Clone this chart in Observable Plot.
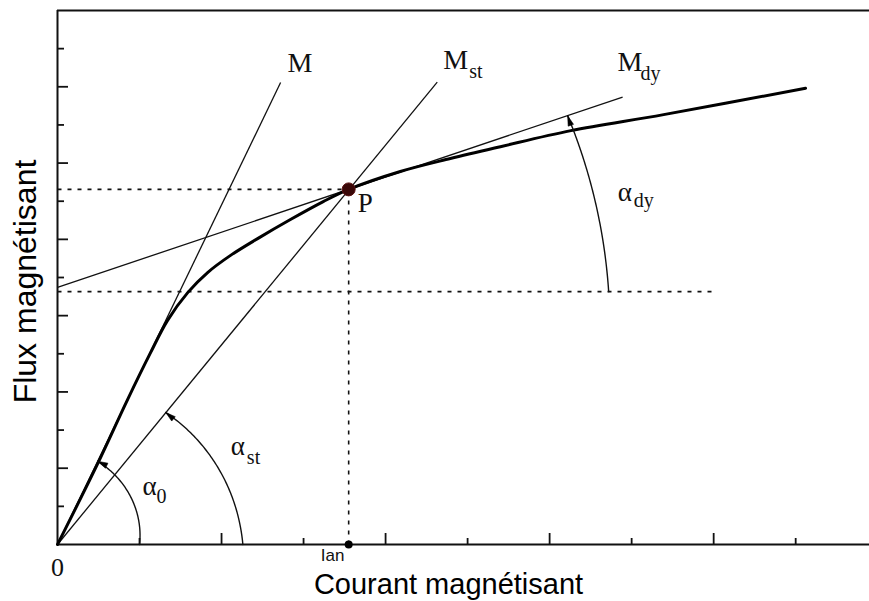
<!DOCTYPE html>
<html><head><meta charset="utf-8">
<script src="https://cdn.jsdelivr.net/npm/d3@7"></script>
<script src="https://cdn.jsdelivr.net/npm/@observablehq/plot@0.6"></script>
<style>
html,body{margin:0;padding:0;background:#fff;}
#chart{width:869px;height:601px;}
</style></head><body><div id="chart"></div>
<script>
// Magnetisation curve: current (x-tick units) and flux (y-tick units)
const curveI   = [0, 0.49, 0.85, 1.13, 1.34, 1.59, 1.83, 2.11, 2.44, 2.84, 3.24, 3.55, 4.18, 4.79, 5.40, 6.26, 7.39, 9.12];
const curvePhi = [0, 2.12, 3.78, 5.01, 5.87, 6.61, 7.13, 7.58, 8.02, 8.52, 8.99, 9.31, 9.78, 10.12, 10.43, 10.85, 11.27, 11.96];

// Operating point P
const pointP = {I: 3.55, phi: 9.31};
const pointLabel = "P";
const currentLabel = "Ian";

// Straight lines M (initial tangent), Mst (secant through P), Mdy (tangent at P)
const lineMain = ["M", "M", "M"];
const lineSub  = ["", "st", "dy"];
const lineX1 = [0, 0, 0];
const lineY1 = [0, 0, 6.74];
const lineX2 = [2.72, 4.63, 6.89];
const lineY2 = [12.11, 12.12, 11.73];

// Horizontal reference level for the dynamic angle
const levelDy = 6.63;
const levelDyEnd = 8.0;

// Angle arcs: start point on the reference line, arrow tip on the inclined line
const angleSub    = ["0", "st", "dy"];
const arcStartX   = [1.0, 2.26, 6.72];
const arcStartY   = [0, 0, 6.63];
const arcTipX     = [0.49, 1.32, 6.22];
const arcTipY     = [2.18, 3.46, 11.24];

// Axis ticks
const xTicks = [1, 2, 3, 4, 5, 6, 7, 8, 9];
const yTicks = [1, 2, 3, 4, 5, 6, 7, 8, 9, 10, 11, 12, 13];
const xMax = 9.9, yMax = 14;
const xTitle = "Courant magnétisant";
const yTitle = "Flux magnétisant";
const originLabel = "0";

// ---- layout
const W = 869, H = 601, mL = 57, mR = 0, mT = 10, mB = 57;
const kx = (W - mL - mR) / xMax, ky = (H - mT - mB) / yMax;
const SERIF = "'Liberation Serif','DejaVu Serif',serif";
const SANS = "'Liberation Sans',Arial,sans-serif";

const curve = curveI.map((x, i) => ({x, y: curvePhi[i]}));
const lines = lineMain.map((m, i) => ({x1: lineX1[i], y1: lineY1[i], x2: lineX2[i], y2: lineY2[i]}));

// vertex of each angle: origin for first two, intersection of Mdy with the level for the third
const slopeDy = (lineY2[2] - lineY1[2]) / (lineX2[2] - lineX1[2]);
const vertices = [[0, 0], [0, 0], [lineX1[2] + (levelDy - lineY1[2]) / slopeDy, levelDy]];

const arcs = [], arrows = [];
angleSub.forEach((s, k) => {
  const v = vertices[k];
  const sx = (arcStartX[k] - v[0]) * kx, sy = (arcStartY[k] - v[1]) * ky;
  const tx = (arcTipX[k] - v[0]) * kx, ty = (arcTipY[k] - v[1]) * ky;
  const a0 = Math.atan2(sy, sx), a1 = Math.atan2(ty, tx);
  const r0 = Math.hypot(sx, sy), r1 = Math.hypot(tx, ty);
  const n = 80;
  for (let i = 0; i <= n; i++) {
    const f = i / n, a = a0 + (a1 - a0) * f, r = r0 + (r1 - r0) * f;
    arcs.push({k, x: v[0] + r * Math.cos(a) / kx, y: v[1] + r * Math.sin(a) / ky});
  }
  const ux = -Math.sin(a1), uy = Math.cos(a1);
  const L = 10, hw = 2.8;
  const bx = tx - ux * L, by = ty - uy * L;
  const nx = -uy, ny = ux;
  [[tx, ty], [bx + nx * hw, by + ny * hw], [bx - nx * hw, by - ny * hw], [tx, ty]]
    .forEach(p => arrows.push({k, x: v[0] + p[0] / kx, y: v[1] + p[1] / ky}));
});

const dashed = [
  {x1: 0, y1: pointP.phi, x2: pointP.I, y2: pointP.phi},
  {x1: pointP.I, y1: 0, x2: pointP.I, y2: pointP.phi},
  {x1: 0, y1: levelDy, x2: levelDyEnd, y2: levelDy}
];

const lineEnds = lines.map((l, i) => ({x: l.x2, y: l.y2, m: lineMain[i], s: lineSub[i]}));
const mOff = [[7, -11], [6, -13], [-5, -26]];
const sOff = [[0, 0], [32, -4], [18, -17]];
const arcStarts = angleSub.map((s, i) => ({x: arcStartX[i], y: arcStartY[i], s}));
const aOff = [[3, -50], [-12, -90], [9, -91]];
const asOff = [[17, -42], [4, -81], [25, -85]];

const plot = Plot.plot({
  width: W, height: H,
  marginLeft: mL, marginRight: mR, marginTop: mT, marginBottom: mB,
  x: {domain: [0, xMax], axis: null},
  y: {domain: [0, yMax], axis: null},
  style: {background: "white", overflow: "visible", color: "#111"},
  marks: [
    // frame
    Plot.ruleX([0], {stroke: "#111", strokeWidth: 2}),
    Plot.ruleY([0, yMax], {stroke: "#111", strokeWidth: 2}),
    // ticks pointing inward
    Plot.ruleX(xTicks, {x: d => d, y1: 0, y2: d => (d % 2 === 0 ? 11 : 6) / ky, stroke: "#111", strokeWidth: 1.8}),
    Plot.ruleY(yTicks, {y: d => d, x1: 0, x2: d => (d % 2 === 0 ? 11 : 7) / kx, stroke: "#111", strokeWidth: 1.8}),
    // dashed guides
    Plot.link(dashed, {x1: "x1", y1: "y1", x2: "x2", y2: "y2", stroke: "#111", strokeWidth: 1.6, strokeDasharray: "4,6"}),
    // straight lines
    Plot.link(lines, {x1: "x1", y1: "y1", x2: "x2", y2: "y2", stroke: "#111", strokeWidth: 1.3}),
    // magnetisation curve
    Plot.line(curve, {x: "x", y: "y", curve: "catmull-rom", stroke: "#000", strokeWidth: 3}),
    // angle arcs and arrowheads
    Plot.line(arcs, {x: "x", y: "y", z: "k", stroke: "#111", strokeWidth: 1.4}),
    Plot.line(arrows, {x: "x", y: "y", z: "k", fill: "#000", stroke: "#000", strokeWidth: 0.6}),
    // points
    Plot.dot([pointP], {x: "I", y: 0, r: 4, fill: "#000"}),
    Plot.dot([pointP], {x: "I", y: "phi", r: 6.5, fill: "#3a0808", stroke: "#5a1010", strokeWidth: 1}),
    // labels of lines
    ...lineEnds.map((d, i) => Plot.text([d], {x: "x", y: "y", text: "m", dx: mOff[i][0], dy: mOff[i][1], textAnchor: "start", lineAnchor: "bottom", fontFamily: SERIF, fontSize: 28, fill: "#111"})),
    ...lineEnds.map((d, i) => Plot.text([d], {x: "x", y: "y", text: "s", dx: sOff[i][0], dy: sOff[i][1], textAnchor: "start", lineAnchor: "bottom", fontFamily: SERIF, fontSize: 20, fill: "#111"})),
    // angle labels
    ...arcStarts.map((d, i) => Plot.text([d], {x: "x", y: "y", text: () => "α", dx: aOff[i][0], dy: aOff[i][1], textAnchor: "start", lineAnchor: "bottom", fontFamily: SERIF, fontSize: 27, fill: "#111"})),
    ...arcStarts.map((d, i) => Plot.text([d], {x: "x", y: "y", text: "s", dx: asOff[i][0], dy: asOff[i][1], textAnchor: "start", lineAnchor: "bottom", fontFamily: SERIF, fontSize: 20, fill: "#111"})),
    // P label
    Plot.text([pointP], {x: "I", y: "phi", text: () => pointLabel, dx: 9, dy: 23, textAnchor: "start", lineAnchor: "bottom", fontFamily: SERIF, fontSize: 27, fill: "#111"}),
    // Ian label
    Plot.text([pointP], {x: "I", y: 0, text: () => currentLabel, dx: -16, dy: 16, textAnchor: "middle", lineAnchor: "bottom", fontFamily: SANS, fontSize: 17, fill: "#111"}),
    // origin label
    Plot.text([0], {x: d => d, y: d => d, text: () => originLabel, dy: 31, textAnchor: "middle", lineAnchor: "bottom", fontFamily: SERIF, fontSize: 26, fill: "#111"}),
    // axis titles
    Plot.text([xTitle], {frameAnchor: "bottom", text: d => d, dx: -15, dy: 49, textAnchor: "middle", lineAnchor: "bottom", fontFamily: SANS, fontSize: 29, fill: "#000"}),
    Plot.text([yTitle], {frameAnchor: "left", text: d => d, dx: -22, dy: 4, rotate: -90, textAnchor: "middle", lineAnchor: "bottom", fontFamily: SANS, fontSize: 32, fill: "#000"})
  ]
});
document.getElementById("chart").appendChild(plot);
</script>
</body></html>
